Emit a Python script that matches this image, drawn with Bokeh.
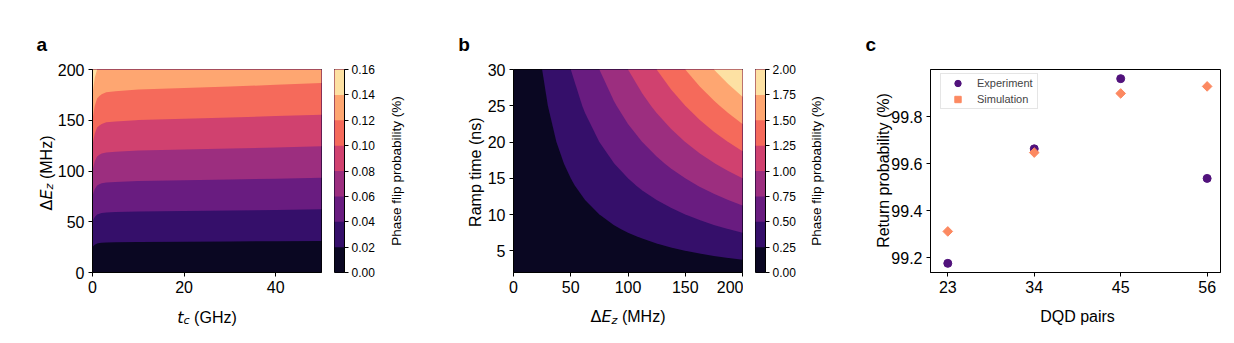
import numpy as np
from bokeh.plotting import figure
from bokeh.models import (Range1d, FixedTicker, Label, Legend, LegendItem,
                          NumeralTickFormatter, GridBox)
from bokeh.palettes import Magma256
from bokeh.embed import file_html
from bokeh.resources import INLINE

# ---------------- data ----------------
# panel a: phase flip probability vs t_c and dEz (field = dEz * rate(t_c))
tc_ghz = [0, 0.25, 0.5, 1, 1.5, 2, 3, 5, 10, 20, 30, 40, 50]
ez_a_mhz = [0, 25, 50, 75, 100, 125, 150, 175, 200]
flip_per_mhz_a = [0.00080, 0.00076, 0.00073, 0.00070, 0.00069, 0.000683,
                  0.000676, 0.000672, 0.000666, 0.000660, 0.000655,
                  0.000649, 0.000643]
levels_a = [0.00, 0.02, 0.04, 0.06, 0.08, 0.10, 0.12, 0.14, 0.16]

# panel b: phase flip probability vs dEz and ramp time
ez_b_mhz = [0, 12.5, 25, 37.5, 50, 62.5, 75, 87.5, 100, 112.5, 125, 137.5,
            150, 162.5, 175, 187.5, 200]
ramp_ns = [2, 3, 4, 5, 6, 7, 8, 10, 12, 14, 17, 20, 25, 30]
flip_at_30ns_b = [0.0, 0.125, 0.25, 0.375, 0.5, 0.625, 0.75, 0.875, 1.0,
                  1.125, 1.25, 1.375, 1.5, 1.625, 1.75, 1.875, 2.0]
ramp_factor_b = [0.067, 0.100, 0.133, 0.167, 0.200, 0.233, 0.267, 0.333,
                 0.400, 0.467, 0.567, 0.667, 0.833, 1.000]
levels_b = [0.00, 0.25, 0.50, 0.75, 1.00, 1.25, 1.50, 1.75, 2.00]

# panel c: return probability
dqd_pairs = [23, 34, 45, 56]
dqd_labels = ["23", "34", "45", "56"]
exp_return = [99.176, 99.664, 99.963, 99.538]
sim_return = [99.312, 99.648, 99.900, 99.930]

# ---------------- styling ----------------
FONT = "Liberation Sans"
MATH = "DejaVu Sans"
BAND_COLORS = [Magma256[i] for i in (16, 48, 80, 112, 144, 176, 208, 240)]
EXP_COLOR = "#51127c"
SIM_COLOR = "#fc8961"
FH = 203
TOP = 69
BOT = 62
PAGE_W = 1224
PAGE_H = TOP + FH + BOT

W_MATH = {"Δ": 0.684, "E": 0.632, "z": 0.525, "t": 0.392, "c": 0.550}
W_TXT = {" ": 0.278, "(": 0.333, ")": 0.333, "M": 0.833, "H": 0.722,
         "z": 0.5, "G": 0.778}


def style_axes(p, tick_size="16px"):
    p.grid.visible = False
    p.outline_line_color = "black"
    p.outline_line_width = 1
    for ax in p.xaxis + p.yaxis:
        ax.axis_line_color = "black"
        ax.axis_line_width = 1
        ax.major_tick_line_color = "black"
        ax.major_tick_line_width = 1
        ax.major_tick_out = 4
        ax.major_tick_in = 0
        ax.minor_tick_line_color = None
        ax.major_label_text_font = FONT
        ax.major_label_text_font_size = tick_size
        ax.major_label_text_color = "black"
        ax.major_label_standoff = 4


# transparent overlay that carries the texts lying outside the frames
ov = figure(width=PAGE_W, height=PAGE_H, x_range=Range1d(0, PAGE_W),
            y_range=Range1d(PAGE_H, 0), min_border=0, toolbar_location=None,
            output_backend="svg", x_axis_location=None, y_axis_location=None,
            frame_align=False)
ov.grid.visible = False
ov.outline_line_color = None
ov.background_fill_alpha = 0
ov.border_fill_alpha = 0


def text(t, x, y, size, font=FONT, style="normal", angle=0,
         align="left", baseline="alphabetic"):
    ov.add_layout(Label(x=x, y=y, text=t, text_font=font,
                        text_font_style=style, text_font_size=f"{size}px",
                        angle=angle, angle_units="deg", text_align=align,
                        text_baseline=baseline, text_color="black"))


def math_label(parts, c, base, vertical=False):
    widths = []
    for t, font, style, size, shift in parts:
        table = W_MATH if font == MATH else W_TXT
        widths.append(sum(table[ch] for ch in t) * size)
    total = sum(widths)
    pos = c + total / 2 if vertical else c - total / 2
    for (t, font, style, size, shift), w in zip(parts, widths):
        lead = (len(t) - len(t.lstrip())) * W_TXT[" "] * size
        t = t.lstrip()
        if vertical:
            text(t, base + shift, pos - lead, size, font, style, angle=90)
            pos -= w
        else:
            text(t, pos + lead, base + shift, size, font, style)
            pos += w


def ez_parts():
    return [("Δ", MATH, "normal", 16, 0), ("E", MATH, "italic", 16, 0),
            ("z", MATH, "italic", 11.2, 3.5), (" (MHz)", FONT, "normal", 16, 0)]


def contour_panel(x, y, z, levels, xr, yr, left, fw):
    p = figure(frame_width=fw, frame_height=FH, min_border_left=left,
               min_border_right=1, min_border_top=TOP, min_border_bottom=BOT,
               x_range=Range1d(*xr), y_range=Range1d(*yr),
               toolbar_location=None, output_backend="svg")
    for k in range(len(levels) - 1):
        p.contour(x, y, z, levels=[levels[k], levels[-1]],
                  fill_color=BAND_COLORS[k], line_color=None)
    style_axes(p)
    return p


def colorbar(levels, right):
    cb = figure(frame_width=10, frame_height=FH, min_border_left=12,
                min_border_right=right, min_border_top=TOP,
                min_border_bottom=BOT, x_range=Range1d(0, 1),
                y_range=Range1d(levels[0], levels[-1]),
                y_axis_location="right", toolbar_location=None,
                output_backend="svg")
    for k in range(len(levels) - 1):
        cb.quad(left=0, right=1, bottom=levels[k], top=levels[-1],
                fill_color=BAND_COLORS[k], line_color=None)
    style_axes(cb, "12px")
    cb.xaxis.visible = False
    cb.yaxis.ticker = FixedTicker(ticks=levels)
    cb.yaxis.formatter = NumeralTickFormatter(format="0.00")
    cb.yaxis.major_label_standoff = 3
    return cb


# ---------------- panel a ----------------
z_a = np.outer(ez_a_mhz, flip_per_mhz_a)
pa = contour_panel(tc_ghz, ez_a_mhz, z_a, levels_a, (0, 50), (0, 200), 92, 229)
pa.xaxis.ticker = FixedTicker(ticks=[0, 20, 40])
pa.yaxis.ticker = FixedTicker(ticks=[0, 50, 100, 150, 200])
cba = colorbar(levels_a, 86)

# ---------------- panel b ----------------
z_b = np.outer(ramp_factor_b, flip_at_30ns_b)
pb = contour_panel(ez_b_mhz, ramp_ns, z_b, levels_b, (0, 200), (2, 30), 83, 229)
pb.xaxis.ticker = FixedTicker(ticks=[0, 50, 100, 150, 200])
pb.yaxis.ticker = FixedTicker(ticks=[5, 10, 15, 20, 25, 30])
cbb = colorbar(levels_b, 85)

# ---------------- panel c ----------------
pc = figure(frame_width=290, frame_height=FH, min_border_left=80,
            min_border_right=4, min_border_top=TOP, min_border_bottom=BOT,
            x_range=Range1d(20.8, 57.7), y_range=Range1d(99.137, 100.002),
            toolbar_location=None, output_backend="svg")
r_exp = pc.scatter(dqd_pairs, exp_return, marker="circle", size=8,
                   fill_color=EXP_COLOR, line_color=EXP_COLOR)
r_sim = pc.scatter(dqd_pairs, sim_return, marker="square", size=6.8,
                   angle=np.pi / 4, fill_color=SIM_COLOR, line_color=SIM_COLOR)
style_axes(pc)
pc.xaxis.ticker = FixedTicker(ticks=dqd_pairs)
pc.xaxis.major_label_overrides = {v: s for v, s in zip(dqd_pairs, dqd_labels)}
pc.yaxis.ticker = FixedTicker(ticks=[99.2, 99.4, 99.6, 99.8])
pc.yaxis.formatter = NumeralTickFormatter(format="0.0")
legend = Legend(items=[LegendItem(label="Experiment", renderers=[r_exp]),
                       LegendItem(label="Simulation", renderers=[r_sim])],
                location=(10, 163), margin=0, padding=1, spacing=0,
                glyph_width=31, glyph_height=16, label_height=16,
                label_width=59, label_standoff=4,
                label_text_font=FONT, label_text_font_size="11px",
                border_line_color="#cccccc", border_line_width=1,
                background_fill_color="white", background_fill_alpha=1)
pc.add_layout(legend)

# ---------------- texts outside the frames ----------------
text("a", 36, 44, 19, style="bold")
text("b", 457.7, 44, 19, style="bold")
text("c", 865, 44, 19, style="bold")
math_label([("t", MATH, "italic", 16, 0), ("c", MATH, "italic", 11.2, 3.5),
            (" (GHz)", FONT, "normal", 16, 0)], 206.5, 316.5)
math_label(ez_parts(), 172.5, 45.5, vertical=True)
math_label(ez_parts(), 627.5, 316)
text("Ramp time (ns)", 474.5, 171.7, 16, angle=90, align="center")
text("Phase flip probability (%)", 396, 170.5, 13.5, angle=90, align="center")
text("Phase flip probability (%)", 816, 170.5, 13.5, angle=90, align="center")
text("DQD pairs", 1077, 316, 16, align="center")
text("Return probability (%)", 882.5, 170, 16, angle=90, align="center")

layout = GridBox(children=[(pa, 0, 0), (cba, 0, 1), (pb, 0, 2), (cbb, 0, 3),
                           (pc, 0, 4), (ov, 0, 0, 1, 5)], spacing=0)
open("out.html", "w").write(file_html(layout, INLINE))
